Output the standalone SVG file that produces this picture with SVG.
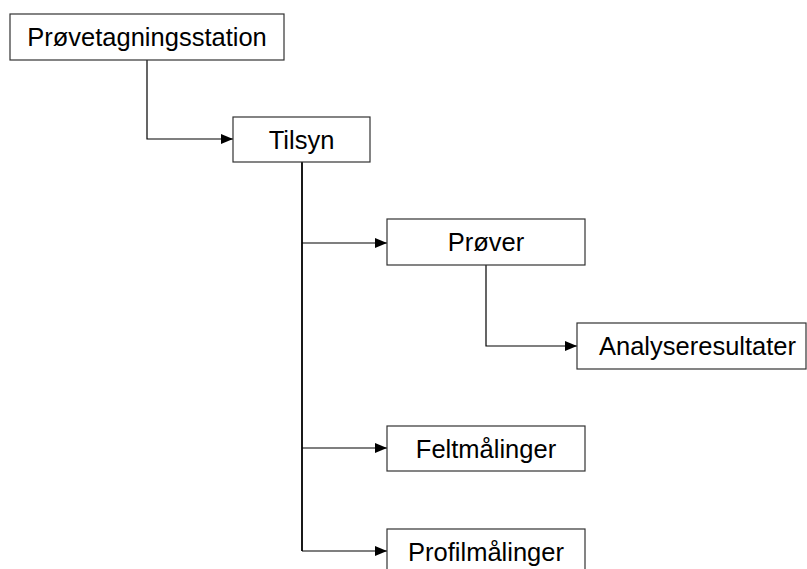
<svg xmlns="http://www.w3.org/2000/svg" width="807" height="569" viewBox="0 0 807 569">
<style>
.box{fill:#fff;stroke:#333;stroke-width:1.2}
.lbl{font-family:"Liberation Sans",Arial,sans-serif;font-size:25.5px;fill:#000;text-anchor:middle}
.con{fill:none;stroke:#000;stroke-width:1.2}
.trunk{stroke-width:1.8}
</style>
<defs>
<marker id="ah" markerWidth="12" markerHeight="10" refX="12" refY="5" orient="auto" markerUnits="userSpaceOnUse">
<path d="M0,0 L12,5 L0,10 Z" fill="#000"/>
</marker>
</defs>
<rect width="807" height="569" fill="#fff"/>
<g id="connectors">
<path class="con" d="M147,60 V139 H233" marker-end="url(#ah)"/>
<path class="con trunk" d="M302,162 V551"/>
<path class="con" d="M302,243 H387" marker-end="url(#ah)"/>
<path class="con" d="M486,265 V346 H577" marker-end="url(#ah)"/>
<path class="con" d="M302,448 H387" marker-end="url(#ah)"/>
<path class="con" d="M302,551 H387" marker-end="url(#ah)"/>
</g>
<g id="n1"><rect class="box" x="10" y="14" width="274" height="46"/><text class="lbl" x="147" y="46">Prøvetagningsstation</text></g>
<g id="n2"><rect class="box" x="233" y="117" width="137" height="45"/><text class="lbl" x="301.5" y="148.5">Tilsyn</text></g>
<g id="n3"><rect class="box" x="387" y="219" width="198" height="46"/><text class="lbl" x="486" y="251">Prøver</text></g>
<g id="n4"><rect class="box" x="577" y="323" width="229" height="46"/><text class="lbl" x="697.5" y="355">Analyseresultater</text></g>
<g id="n5"><rect class="box" x="387" y="426" width="198" height="45"/><text class="lbl" x="486" y="457.5">Feltmålinger</text></g>
<g id="n6"><rect class="box" x="387" y="529" width="198" height="46"/><text class="lbl" x="486" y="560.5">Profilmålinger</text></g>
</svg>
